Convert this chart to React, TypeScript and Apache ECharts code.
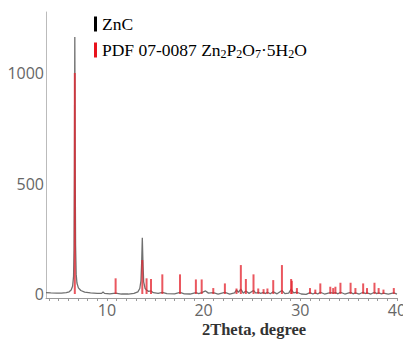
import React, { useEffect, useRef } from "react";
import * as echarts from "echarts";

const sampleName = "ZnC";
const refName = "PDF 07-0087 Zn2P2O7·5H2O";

// ZnC measured pattern: [2Theta, intensity]
const sampleProfile: [number, number][] = [
  [3.7, 6], [4.2, 5], [4.8, 4], [5.3, 4], [5.8, 6], [6.1, 10], [6.3, 18], [6.45, 35], [6.55, 80],
  [6.6, 200], [6.64, 560], [6.68, 1163], [6.72, 560], [6.76, 220], [6.82, 90], [6.9, 50], [7.05, 28],
  [7.3, 16], [7.7, 9], [8.3, 5], [9.0, 3], [9.45, 3], [9.6, 9], [9.75, 3], [10.3, 1], [10.9, 4],
  [11.5, 0], [12.2, 0], [12.8, 3], [13.2, 10], [13.4, 25], [13.52, 60], [13.6, 150], [13.66, 255],
  [13.72, 150], [13.8, 55], [13.95, 25], [14.1, 18], [14.3, 12], [14.56, 14], [14.8, 6], [15.3, 3],
  [15.73, 8], [16.2, 2], [17.0, 1], [17.56, 7], [18.0, 1], [18.6, 0], [19.2, 6], [19.5, 2], [19.8, 6],
  [20.2, 14], [20.5, 4], [21.0, 6], [21.5, 0], [22.2, 7], [22.7, 0], [23.2, 5], [23.4, 18], [23.6, 8],
  [23.85, 22], [24.1, 4], [24.37, 14], [24.7, 3], [25.16, 16], [25.4, 4], [25.65, 8], [25.9, 3],
  [26.2, 7], [26.4, 2], [26.6, 8], [26.9, 1], [27.2, 10], [27.6, 1], [28.1, 16], [28.4, 2], [28.8, 4],
  [29.05, 22], [29.3, 5], [29.65, 8], [30.1, 0], [30.6, -2], [31.0, 6], [31.3, 0], [31.55, 5], [31.8, 0],
  [32.07, 8], [32.5, 0], [33.1, 6], [33.4, 4], [33.63, 6], [33.9, 1], [34.15, 8], [34.6, 0], [35.2, 8],
  [35.45, 1], [35.7, 5], [36.1, 0], [36.5, 8], [36.7, 2], [36.9, 5], [37.3, 0], [37.67, 8], [37.9, 2],
  [38.1, 5], [38.4, 1], [38.6, 4], [39.1, 0], [39.67, 5], [40.0, 0],
];

// Reference PDF 07-0087 stick pattern: [2Theta, relative intensity]
const refPeaks: [number, number][] = [
  [6.68, 1000], [10.9, 71], [13.66, 154], [14.1, 71], [14.56, 68], [15.73, 89], [17.56, 89],
  [19.2, 66], [19.8, 66], [21.0, 27], [22.2, 48], [23.4, 25], [23.85, 131], [24.37, 68], [25.16, 89],
  [25.65, 25], [26.2, 22], [26.6, 25], [27.2, 63], [28.1, 131], [29.05, 68], [29.12, 60], [29.65, 27],
  [31.0, 27], [31.55, 20], [32.07, 48], [33.1, 33], [33.4, 27], [33.63, 33], [34.15, 51], [35.2, 51],
  [35.7, 27], [36.5, 48], [36.9, 27], [37.67, 51], [38.1, 27], [38.6, 20], [39.67, 27],
];

const yLabelValues = [0, 500, 1000];
const xLabelValues = [10, 20, 30, 40];
const xTickValues = [4, 5, 6, 7, 8, 9, 10, 11, 12, 13, 14, 15, 16, 17, 18, 19, 20, 21, 22, 23, 24, 25, 26, 27, 28, 29, 30, 31, 32, 33, 34, 35, 36, 37, 38, 39, 40];
const xAxisTitle = "2Theta, degree";

export default function App() {
  const ref = useRef<HTMLDivElement>(null);
  useEffect(() => {
    if (!ref.current) return;
    const chart = echarts.init(ref.current, null, { renderer: "svg" });
    chart.setOption({
      animation: false,
      grid: { left: 46, right: 6, top: 12, bottom: 44, containLabel: false, outerBoundsMode: "none" },
      legend: {
        orient: "vertical",
        left: 89,
        top: 9,
        itemWidth: 3,
        itemHeight: 15,
        itemGap: 6,
        icon: "rect",
        selectedMode: false,
        data: [
          { name: sampleName, itemStyle: { color: "#000" } },
          { name: refName, itemStyle: { color: "#e8121c" } },
        ],
        formatter: (name: string) =>
          name === sampleName
            ? "{n|ZnC}"
            : "{n|PDF 07-0087 Zn}{s|2}{n|P}{s|2}{n|O}{s|7}{n|·5H}{s|2}{n|O}",
        textStyle: {
          fontFamily: "Liberation Serif",
          fontSize: 17.5,
          color: "#000",
          lineHeight: 20,
          rich: {
            n: { fontFamily: "Liberation Serif", fontSize: 17.5, color: "#000", lineHeight: 20 },
            s: { fontFamily: "Liberation Serif", fontSize: 12, color: "#000", lineHeight: 12, verticalAlign: "bottom" },
          },
        },
      },
      xAxis: {
        type: "value",
        min: 3.7,
        max: 40,
        axisLine: { onZero: false, lineStyle: { color: "#999", width: 1 } },
        axisTick: { show: true, customValues: xTickValues, length: 3, lineStyle: { color: "#999" } },
        axisLabel: {
          customValues: xLabelValues,
          fontFamily: "Open Sans",
          fontSize: 16,
          color: "#666",
          margin: 4,
          showMaxLabel: true,
          showMinLabel: true,
          hideOverlap: false,
        },
        splitLine: { show: false },
      },
      yAxis: {
        type: "value",
        min: -18,
        max: 1276,
        axisLine: { show: true, lineStyle: { color: "#bbb", width: 1 } },
        axisTick: { show: false },
        axisLabel: {
          customValues: yLabelValues,
          formatter: (v: number) => String(v),
          fontFamily: "Open Sans",
          fontSize: 16,
          color: "#666",
          margin: 2,
        },
        splitLine: { show: false },
      },
      graphic: [
        {
          type: "text",
          x: 254,
          y: 329,
          style: {
            text: xAxisTitle,
            fontFamily: "Liberation Serif",
            fontWeight: "bold",
            fontSize: 16.5,
            fill: "#333",
            textAlign: "center",
            textVerticalAlign: "middle",
          },
        },
      ],
      series: [
        {
          name: sampleName,
          type: "line",
          data: sampleProfile,
          showSymbol: false,
          lineStyle: { color: "#707070", width: 1.3 },
          itemStyle: { color: "#707070" },
          z: 2,
        },
        {
          name: refName,
          type: "bar",
          data: refPeaks,
          barWidth: 2,
          itemStyle: { color: "rgba(228,40,50,0.78)" },
          z: 3,
        },
      ],
    });
    return () => chart.dispose();
  }, []);
  return (
    <div
      ref={ref}
      style={{ position: "fixed", left: 0, top: 0, width: 403, height: 342, background: "#fff" }}
    />
  );
}
